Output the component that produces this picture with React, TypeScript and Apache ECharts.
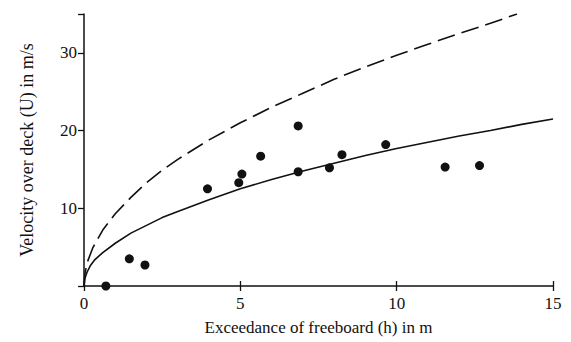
import React, { useEffect, useRef } from "react";
import * as echarts from "echarts";

const xTicks = [0, 5, 10, 15];
const yTicks = [10, 20, 30];

const solidCurve: [number, number][] = [
  [0, 0], [0.03, 1.0], [0.1, 1.8], [0.2, 2.6], [0.35, 3.4], [0.6, 4.3], [1, 5.5],
  [1.5, 6.8], [2, 7.8], [2.5, 8.8], [3, 9.6], [4, 11.1], [5, 12.5], [6, 13.7],
  [7, 14.8], [8, 15.8], [9, 16.8], [10, 17.7], [11, 18.5], [12, 19.3], [13, 20.0],
  [14, 20.8], [15, 21.5],
];

const dashedCurve: [number, number][] = [
  [0, 0], [0.03, 1.6], [0.1, 3.0], [0.28, 4.9], [0.6, 7.2], [1, 9.3], [1.5, 11.4],
  [2, 13.3], [2.5, 14.9], [3, 16.3], [4, 18.8], [5, 21.0], [6, 23.0], [7, 24.8],
  [8, 26.6], [9, 28.2], [10, 29.7], [11, 31.1], [12, 32.5], [13, 33.8], [13.85, 35.0],
];

const observations: [number, number][] = [
  [0.7, 0], [1.45, 3.5], [1.95, 2.7], [3.95, 12.5], [4.95, 13.3], [5.05, 14.4],
  [5.65, 16.7], [6.85, 20.6], [6.85, 14.7], [7.85, 15.2], [8.25, 16.9],
  [9.65, 18.2], [11.55, 15.3], [12.65, 15.5],
];

const INK = "#111";
const FONT = "'Liberation Serif', 'DejaVu Serif', serif";

export default function App() {
  const ref = useRef<HTMLDivElement>(null);
  useEffect(() => {
    if (!ref.current) return;
    const chart = echarts.init(ref.current, undefined, { renderer: "svg" });
    chart.setOption({
      animation: false,
      backgroundColor: "#fff",
      grid: { left: 84, right: 18, top: 14, bottom: 56, containLabel: false },
      xAxis: [
        {
          type: "value",
          min: 0,
          max: 15,
          interval: 5,
          position: "bottom",
          name: "Exceedance of freeboard (h) in m",
          nameLocation: "middle",
          nameGap: 33,
          nameTextStyle: { color: INK, fontSize: 17, fontFamily: FONT },
          axisLine: { show: true, lineStyle: { color: INK, width: 1.5 } },
          axisTick: { show: true, inside: false, length: 5, lineStyle: { color: INK, width: 1.3 } },
          axisLabel: {
            color: INK,
            fontSize: 17,
            fontFamily: FONT,
            margin: 9,
            formatter: (v: number) => (xTicks.includes(v) ? String(v) : ""),
          },
          splitLine: { show: false },
        },
        {
          type: "value",
          min: 0,
          max: 15,
          interval: 5,
          position: "bottom",
          axisLine: { show: false },
          axisTick: { show: true, inside: true, length: 5, lineStyle: { color: INK, width: 1.3 } },
          axisLabel: { show: false },
          splitLine: { show: false },
        },
      ],
      yAxis: {
        type: "value",
        min: 0,
        max: 35,
        interval: 10,
        name: "Velocity over deck (U) in m/s",
        nameLocation: "middle",
        nameRotate: 90,
        nameGap: 48,
        nameTextStyle: { color: INK, fontSize: 18, fontFamily: FONT },
        axisLine: { show: true, lineStyle: { color: INK, width: 1.5 } },
        axisTick: { show: true, inside: false, length: 6, lineStyle: { color: INK, width: 1.3 } },
        axisLabel: {
          color: INK,
          fontSize: 17,
          fontFamily: FONT,
          margin: 7,
          formatter: (v: number) => (yTicks.includes(v) ? String(v) : ""),
        },
        splitLine: { show: false },
      },
      series: [
        {
          type: "line",
          data: dashedCurve,
          showSymbol: false,
          symbol: "none",
          smooth: false,
          lineStyle: { color: INK, width: 1.6, type: [18, 7] },
          z: 2,
        },
        {
          type: "line",
          data: solidCurve,
          showSymbol: false,
          symbol: "none",
          smooth: false,
          lineStyle: { color: INK, width: 1.6 },
          z: 2,
        },
        {
          type: "scatter",
          data: observations,
          symbol: "circle",
          symbolSize: 9,
          itemStyle: { color: INK, opacity: 1 },
          z: 3,
        },
      ],
    });
    return () => chart.dispose();
  }, []);
  return (
    <div
      ref={ref}
      style={{ position: "absolute", left: 0, top: 0, width: 571, height: 342 }}
    />
  );
}
